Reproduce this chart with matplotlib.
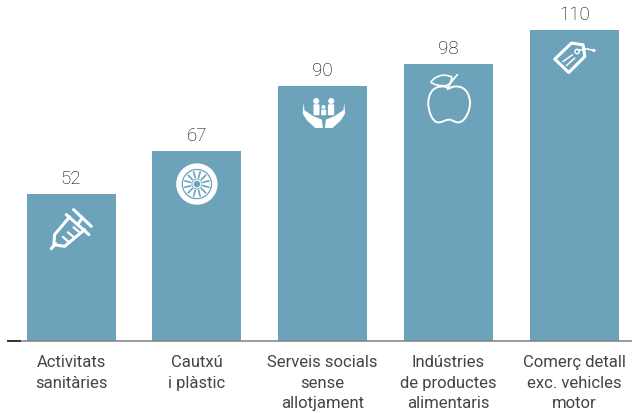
from matplotlib import pyplot as plt
from matplotlib.patches import Circle, FancyBboxPatch, PathPatch, Polygon
from matplotlib.path import Path
from matplotlib.transforms import Affine2D
import numpy as np

categories = [
    "Activitats\nsanitàries",
    "Cautxú\ni plàstic",
    "Serveis socials\nsense\nallotjament",
    "Indústries\nde productes\nalimentaris",
    "Comerç detall\nexc. vehicles\nmotor",
]
values = [52, 67, 90, 98, 110]

BAR_COLOR = "#6ca3bb"
TEXT_COLOR = "#444444"
WHITE = "white"
ICON_Z = 5

plt.rcParams["font.family"] = ["Roboto", "DejaVu Sans"]


def line(ax, tr, pts, color=WHITE, lw=2.0):
    xs, ys = zip(*pts)
    ax.plot(xs, ys, color=color, lw=lw, transform=tr, solid_capstyle="round",
            solid_joinstyle="round", clip_on=False, zorder=ICON_Z + 1)


def syringe(ax, tr):
    line(ax, tr, [(-1.5, 23.3), (-16.5, 41), (-17.2, 51), (-6.5, 52.7), (13.5, 36)], lw=2.2)
    line(ax, tr, [(-4.8, 21), (17.8, 41)], lw=2.2)
    line(ax, tr, [(2.5, 16), (20.2, 32.7)], lw=2.2)
    line(ax, tr, [(6.5, 31), (11.2, 24.3)], lw=2.2)
    line(ax, tr, [(-15.5, 50), (-19.8, 55)], lw=2.2)
    line(ax, tr, [(-8.2, 43.3), (-3.2, 47.7)], lw=1.6)
    line(ax, tr, [(-3.2, 38.7), (2.5, 43.3)], lw=1.6)
    line(ax, tr, [(2.5, 33.7), (7.8, 38.3)], lw=1.6)


def wheel(ax, tr):
    c = (0, 32.8)
    ax.add_patch(Circle(c, 20.7, fc=WHITE, ec="none", transform=tr, zorder=ICON_Z))
    ax.add_patch(Circle(c, 14.6, fc="none", ec=BAR_COLOR, lw=0.9, transform=tr, zorder=ICON_Z))
    ax.add_patch(Circle(c, 3.3, fc=BAR_COLOR, ec="none", transform=tr, zorder=ICON_Z))
    ax.add_patch(Circle(c, 5.0, fc="none", ec=BAR_COLOR, lw=0.6, transform=tr, zorder=ICON_Z))
    for a in np.deg2rad(np.arange(0, 360, 30) + 15):
        line(ax, tr, [(6.5 * np.cos(a), c[1] + 6.5 * np.sin(a)),
                      (12.5 * np.cos(a), c[1] + 12.5 * np.sin(a))], color=BAR_COLOR, lw=1.2)


def family(ax, tr):
    for x, y, r in [(-6.5, 14.7, 3), (8.5, 14.7, 3), (0.8, 20.7, 2)]:
        ax.add_patch(Circle((x, y), r, fc=WHITE, ec="none", transform=tr, zorder=ICON_Z))
    for x0, x1, y0 in [(-9.2, -3.2, 18), (5.2, 11.5, 18), (-1.5, 3.5, 23.3)]:
        ax.add_patch(FancyBboxPatch((x0 + 1, y0 + 1), x1 - x0 - 2, 29 - y0 - 2, boxstyle="round,pad=1",
                                    fc=WHITE, ec="none", transform=tr, zorder=ICON_Z))
    hand = [(-19.2, 16.7), (-18.2, 24), (-9.2, 30), (-0.8, 33.3), (0.2, 41.7),
            (-7.5, 41.7), (-15.8, 34), (-20, 27.3)]
    ax.add_patch(Polygon(hand, fc=WHITE, ec="none", transform=tr, zorder=ICON_Z))
    ax.add_patch(Polygon([(2.4 - x, y) for x, y in hand], fc=WHITE, ec="none", transform=tr, zorder=ICON_Z))


def apple(ax, tr):
    verts = [(0.5, 25.3),
             (4, 22), (9, 22.5), (11.5, 23.3),
             (18, 25), (21.5, 32), (21.5, 39.3),
             (21.5, 48), (16, 58.7), (9.8, 58.7),
             (6, 58.7), (4, 56), (0.5, 56),
             (-3, 56), (-6, 58.7), (-10.2, 58.7),
             (-16, 58.7), (-20.2, 48), (-20.2, 39.3),
             (-20.2, 32), (-17, 25), (-10.2, 23.3),
             (-6, 22.5), (-3, 22), (0.5, 25.3)]
    codes = [Path.MOVETO] + [Path.CURVE4] * 24
    ax.add_patch(PathPatch(Path(verts, codes), fc="none", ec=WHITE, lw=1.4, transform=tr, zorder=ICON_Z))
    leaf = [(-17.8, 18.7), (-13, 12), (-5, 9.5), (3.2, 13.3),
            (3, 18), (1, 21.5), (-3, 22), (-9, 22.5), (-14, 21), (-17.8, 18.7)]
    ax.add_patch(PathPatch(Path(leaf, [Path.MOVETO] + [Path.CURVE4] * 9), fc="none", ec=WHITE,
                           lw=1.2, transform=tr, zorder=ICON_Z))
    line(ax, tr, [(-1, 25.3), (3.2, 17.7), (8.8, 11)], lw=1.3)


def tag(ax, tr):
    outline = [(-19.5, 29.3), (-2.8, 13.3), (8.8, 15), (10.5, 26.7), (-5.5, 42.7)]
    ax.add_patch(Polygon(outline, closed=True, fc="none", ec=WHITE, lw=2.2, joinstyle="round",
                         transform=tr, zorder=ICON_Z))
    ax.add_patch(Circle((2.8, 21.7), 2.2, fc="none", ec=WHITE, lw=1.0, transform=tr, zorder=ICON_Z))
    line(ax, tr, [(3.8, 20.7), (12, 19), (20.5, 20.7)], lw=1.1)
    ax.add_patch(Circle((19.5, 20.7), 1.6, fc=WHITE, ec="none", transform=tr, zorder=ICON_Z))
    line(ax, tr, [(-11.2, 31.7), (-1.8, 25)], lw=1.1)
    line(ax, tr, [(-7.8, 35.7), (0.5, 28.3)], lw=1.1)


icons = [syringe, wheel, family, apple, tag]

fig = plt.figure(figsize=(6.32, 4.14), dpi=100)
ax = fig.add_axes([8 / 632, (414 - 341.5) / 414, 624 / 632, 341.5 / 414])
x = np.arange(len(values))
ax.bar(x, values, width=0.707, color=BAR_COLOR, zorder=2)
xlim = (-0.5016, 4.4587)
ylim = (0, 120.9)
ax.set_xlim(*xlim)
ax.set_ylim(*ylim)

for s in ["top", "left", "right"]:
    ax.spines[s].set_visible(False)
ax.spines["bottom"].set_color("#7f7f7f")
ax.spines["bottom"].set_linewidth(1.1)
ax.set_yticks([])
ax.set_xticks(x)
ax.set_xticklabels(categories, fontsize=12, color=TEXT_COLOR, linespacing=1.43)
ax.tick_params(axis="x", length=0, pad=10)

# short dark stub where the axis starts
ax.plot([0, 0.02], [0, 0], transform=ax.transAxes, color="#333333", lw=1.4, clip_on=False, zorder=3)

for i, v in enumerate(values):
    ax.annotate(str(v), (i, v), xytext=(0, 7), textcoords="offset pixels", ha="center", va="bottom",
                fontsize=13.5, color="#000000", fontweight="light")

fig.canvas.draw()
for i, v in enumerate(values):
    # icons are sketched in pixels, y down, from the top centre of each bar
    px, py = ax.transData.transform((i, v))
    tr = Affine2D().scale(1, -1).translate(px, py)
    icons[i](ax, tr)

ax.set_xlim(*xlim)
ax.set_ylim(*ylim)
fig.savefig("out.png", dpi=100)
